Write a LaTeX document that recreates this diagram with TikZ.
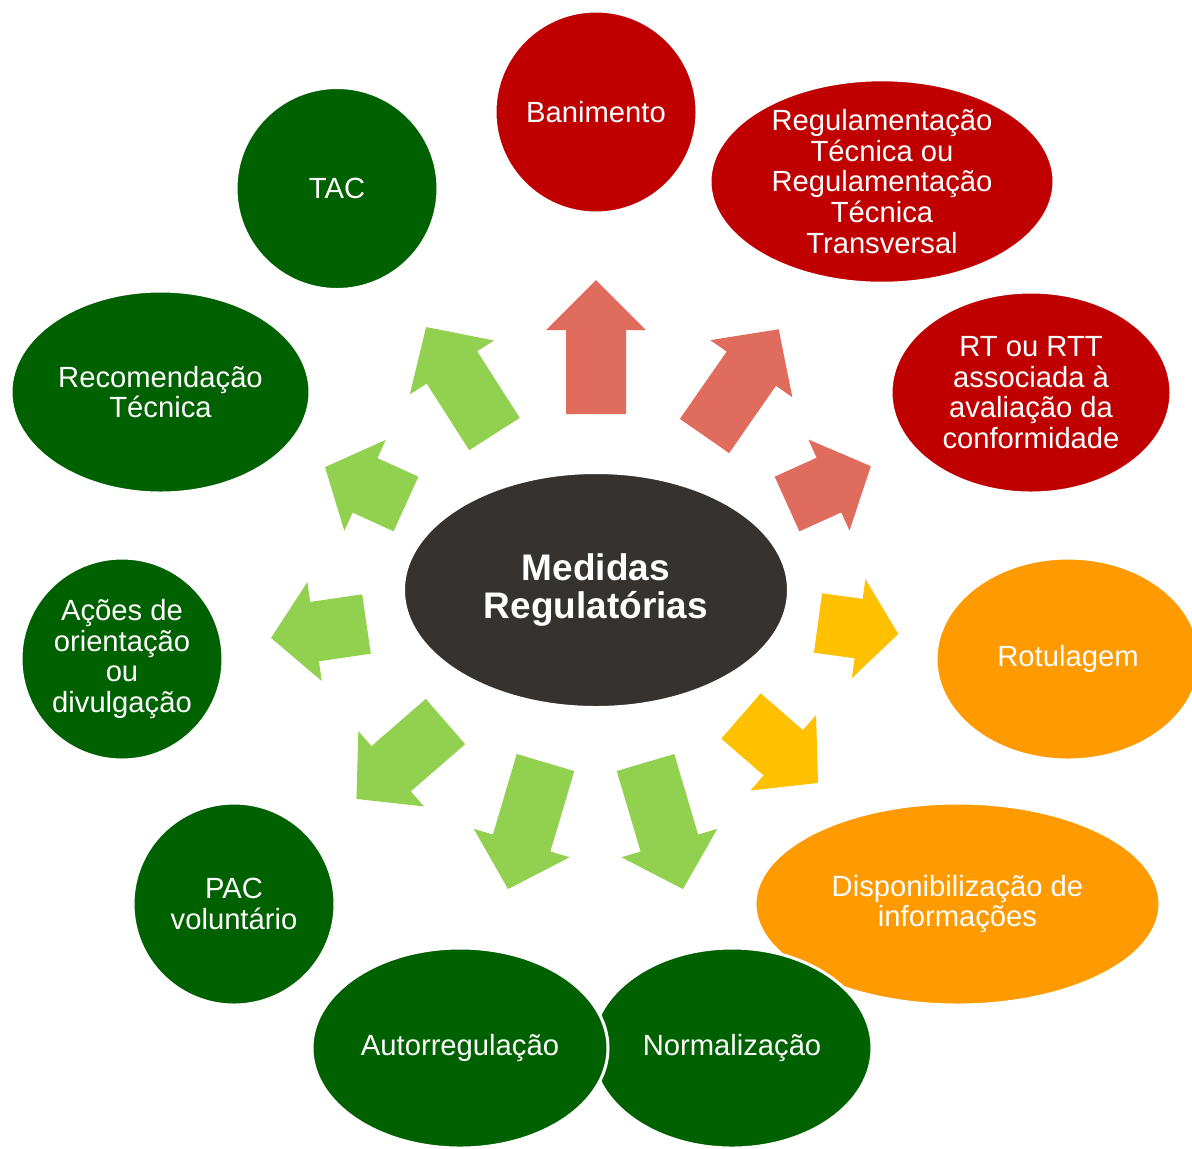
\documentclass[tikz,border=0pt]{standalone}
\usepackage{fontspec}
\setmainfont{Liberation Sans}
\usepackage{xcolor}
\usetikzlibrary{shapes.geometric}
\definecolor{medred}{HTML}{C00000}
\definecolor{medgreen}{HTML}{006100}
\definecolor{medorange}{HTML}{FF9A00}
\definecolor{medgray}{HTML}{353230}
\definecolor{arrred}{HTML}{E06C5E}
\definecolor{arryellow}{HTML}{FFC000}
\definecolor{arrgreen}{HTML}{92D050}

\begin{document}
\begin{tikzpicture}[x=0.5pt,y=-0.5pt,
  txt/.style={font=\fontsize{14.6}{15.3}\selectfont},
  bubble/.style={ellipse,draw=white,line width=1.5pt,text=white,align=center,inner sep=0pt,txt},
  pics/barrow/.style n args={3}{code={
    \fill[#3] (0,-30) -- (#1-#2,-30) -- (#1-#2,-50) -- (#1,0) -- (#1-#2,50) -- (#1-#2,30) -- (0,30) -- cycle;}}]
  \useasboundingbox (0,0) rectangle (1192,1148);
  % centre
  \node[bubble,fill=medgray,minimum width=192.5pt,minimum height=117.5pt,
    font=\bfseries\fontsize{18.5}{19}\selectfont] (med) at (596,590) {Medidas\\Regulatórias};
  % red measures
  \node[bubble,fill=medred,minimum width=101pt,minimum height=101pt] (ban) at (596,112) {Banimento};
  \node[bubble,fill=medred,minimum width=172pt,minimum height=100.5pt] (rt) at (882,181.5)
    {Regulamentação\\Técnica ou\\Regulamentação\\Técnica\\Transversal};
  \node[bubble,fill=medred,minimum width=140pt,minimum height=100.5pt] (rtac) at (1031,392.5)
    {RT ou RTT\\associada à\\avaliação da\\conformidade};
  % orange measures
  \node[bubble,fill=medorange,minimum width=132pt,minimum height=101pt] (rot) at (1068,659) {Rotulagem};
  \node[bubble,fill=medorange,minimum width=202.5pt,minimum height=101pt] (disp) at (957.5,904)
    {Disponibilização de\\informações};
  % green measures
  \node[bubble,fill=medgreen,minimum width=140pt,minimum height=100pt] (norm) at (732,1048) {Normalização};
  \node[bubble,fill=medgreen,minimum width=148pt,minimum height=100pt] (auto) at (460,1048) {Autorregulação};
  \node[bubble,fill=medgreen,minimum width=101pt,minimum height=101pt] (pac) at (234,904) {PAC\\voluntário};
  \node[bubble,fill=medgreen,minimum width=101pt,minimum height=101pt] (acoes) at (122,659)
    {Ações de\\orientação\\ou\\divulgação};
  \node[bubble,fill=medgreen,minimum width=149.5pt,minimum height=101pt] (rec) at (160.5,392) {Recomendação\\Técnica};
  \node[bubble,fill=medgreen,minimum width=101pt,minimum height=101pt] (tac) at (337,188.5) {TAC};
  % block arrows
  \pic[rotate=90]    at (596,414)     {barrow={134}{50}{arrred}};
  \pic[rotate=55.2]  at (704.5,436)   {barrow={130}{48}{arrred}};
  \pic[rotate=24.3]  at (787,504)     {barrow={92}{46}{arrred}};
  \pic[rotate=-7.8]  at (818,623)     {barrow={81}{40}{arryellow}};
  \pic[rotate=-41]   at (741,716)     {barrow={102}{46}{arryellow}};
  \pic[rotate=-73.5] at (645.5,762.5) {barrow={132}{48}{arrgreen}};
  \pic[rotate=-106.5] at (545.5,762.5) {barrow={132}{48}{arrgreen}};
  \pic[rotate=-139]  at (445.5,721.5) {barrow={118}{46}{arrgreen}};
  \pic[rotate=188.3] at (366.5,624)   {barrow={96.5}{44}{arrgreen}};
  \pic[rotate=155.5] at (406,504)     {barrow={89}{44}{arrgreen}};
  \pic[rotate=122.6] at (494.5,434)   {barrow={127}{48}{arrgreen}};
\end{tikzpicture}
\end{document}
